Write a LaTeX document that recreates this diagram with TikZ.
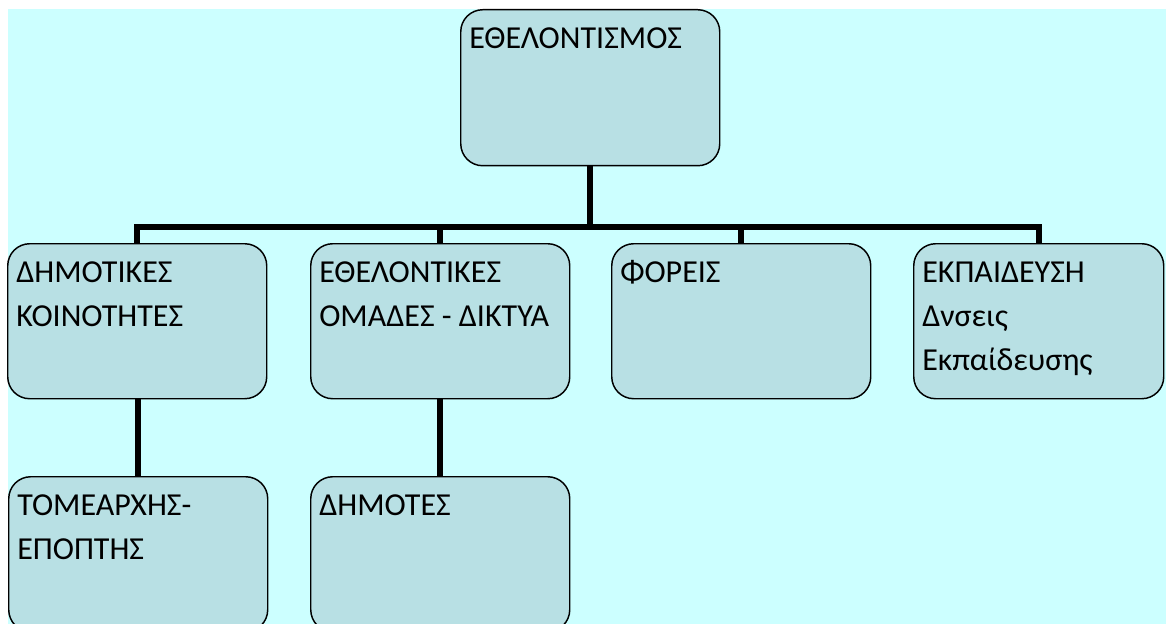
\documentclass[tikz,border=0pt]{standalone}
\usepackage{fontspec}
\setmainfont{Carlito}
\usepackage{xcolor}
\usepackage{tikz}

\definecolor{bgcyan}{RGB}{204,255,255}
\definecolor{boxfill}{RGB}{184,224,228}

\tikzset{
  orgbox/.style={draw=black, line width=1.1pt, fill=boxfill, rounded corners=16.5pt,
    anchor=north west, inner sep=0pt, minimum width=194.25pt, minimum height=116.25pt},
  boxtext/.style={anchor=north west, inner sep=0pt, align=left,
    font=\fontsize{24pt}{33pt}\selectfont},
  link/.style={line width=4.8pt, line join=miter}
}

\begin{document}
\begin{tikzpicture}
[x=0.75pt,y=0.75pt,yscale=-1,xscale=1]
\useasboundingbox (0,0) rectangle (1166,624);
\clip (0,0) rectangle (1166,624);

\fill [bgcyan] (8,9) rectangle (1166,624);

% boxes
\node [orgbox, minimum height=117pt] (top) at (460,9) {};
\node [orgbox] (dimkoin) at (7,243) {};
\node [orgbox] (ethom) at (310,243) {};
\node [orgbox] (foreis) at (611,243) {};
\node [orgbox, minimum width=187.5pt] (ekp) at (913,243) {};
\node [orgbox] (tomarx) at (8,476) {};
\node [orgbox] (dimotes) at (310,476) {};

\coordinate (hub) at (top.south |- 0,227);

\draw [link] (top.south) -- (hub);
\draw [link] (dimkoin.north) |- (hub) -| (ekp.north);
\draw [link] (ethom.north) -- (ethom.north |- hub);
\draw [link] (foreis.north) -- (foreis.north |- hub);
\draw [link] (tomarx.north |- dimkoin.south) -- (tomarx.north);
\draw [link] (ethom.south) -- (dimotes.north);

\node [boxtext] (top-t) at ([shift={(9,8)}]top.north west) {\strut ΕΘΕΛΟΝΤΙΣΜΟΣ};
\node [boxtext] (dimkoin-t) at ([shift={(9,8)}]dimkoin.north west) {\strut ΔΗΜΟΤΙΚΕΣ\\ΚΟΙΝΟΤΗΤΕΣ};
\node [boxtext] (ethom-t) at ([shift={(9,8)}]ethom.north west) {\strut ΕΘΕΛΟΝΤΙΚΕΣ\\ΟΜΑΔΕΣ - ΔΙΚΤΥΑ};
\node [boxtext] (foreis-t) at ([shift={(9,8)}]foreis.north west) {\strut ΦΟΡΕΙΣ};
\node [boxtext] (ekp-t) at ([shift={(9,8)}]ekp.north west) {\strut ΕΚΠΑΙΔΕΥΣΗ\\Δνσεις\\Εκπαίδευσης};
\node [boxtext] (tomarx-t) at ([shift={(9,8)}]tomarx.north west) {\strut ΤΟΜΕΑΡΧΗΣ-\\ΕΠΟΠΤΗΣ};
\node [boxtext] (dimotes-t) at ([shift={(9,8)}]dimotes.north west) {\strut ΔΗΜΟΤΕΣ};

\end{tikzpicture}
\end{document}
